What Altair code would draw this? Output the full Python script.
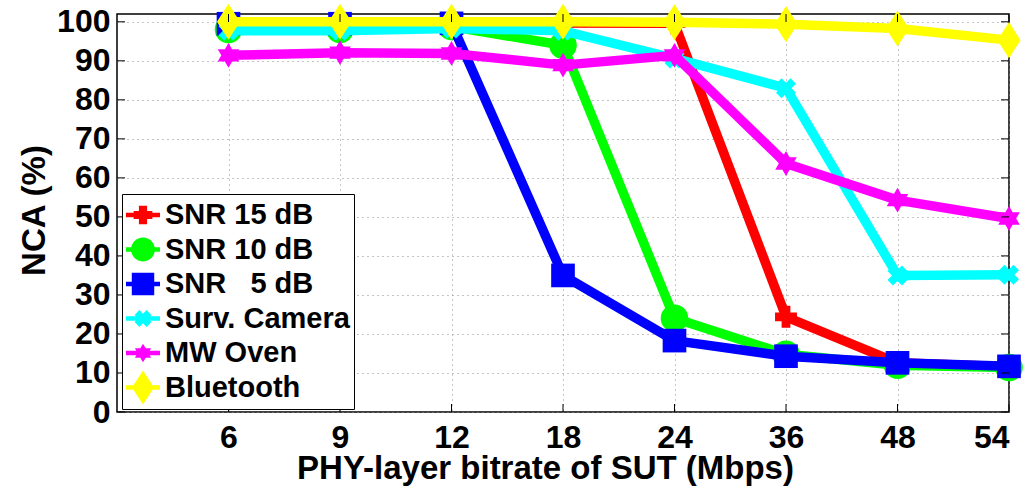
import math
import altair as alt
import pandas as pd

# ---------------- data ----------------
rates = ["6", "9", "12", "18", "24", "36", "48", "54"]
series_names = ["SNR 15 dB", "SNR 10 dB", "SNR \u20075 dB", "Surv. Camera", "MW Oven", "Bluetooth"]
snr15 = [99.5, 99.5, 99.6, 99.7, 99.6, 24.4, 12.6, 11.6]
snr10 = [98.0, 98.0, 98.8, 94.0, 24.0, 14.8, 12.0, 11.4]
snr5 = [99.5, 99.5, 99.6, 35.0, 18.3, 14.3, 12.6, 11.7]
camera = [97.7, 97.7, 98.3, 97.7, 90.6, 83.0, 35.0, 35.2]
oven = [91.4, 92.1, 91.9, 88.9, 91.4, 63.7, 54.3, 49.6]
bluetooth = [100.0, 100.0, 100.0, 100.0, 99.9, 99.4, 98.3, 95.3]
y_ticks = list(range(0, 101, 10))

colors = ["#ff0000", "#00ff00", "#0000ff", "#00ffff", "#ff00ff", "#ffff00"]
values = [snr15, snr10, snr5, camera, oven, bluetooth]

FONT = "Liberation Sans"


# ---------------- marker paths ----------------
def poly(pts):
    return "M" + "L".join(f"{x:.3f},{y:.3f}" for x, y in pts) + "Z"


def plus_pts(a, w):
    return [(-w, -a), (w, -a), (w, -w), (a, -w), (a, w), (w, w), (w, a), (-w, a),
            (-w, w), (-a, w), (-a, -w), (-w, -w)]


def rot45(pts):
    c = math.cos(math.pi / 4)
    return [(x * c - y * c, x * c + y * c) for x, y in pts]


def hexagram_pts(r):
    pts = []
    for k in range(12):
        ang = math.radians(-90 + 30 * k)
        rr = r if k % 2 == 0 else r / math.sqrt(3)
        pts.append((rr * math.cos(ang), rr * math.sin(ang)))
    return pts


def circle(r):
    return f"M{r},0A{r},{r} 0 1,1 {-r},0A{r},{r} 0 1,1 {r},0Z"


def square(h):
    return poly([(-h, -h), (h, -h), (h, h), (-h, h)])


def diamond(w, h):
    return poly([(0, -h), (w, 0), (0, h), (-w, 0)])


# markers drawn on the plot
plot_shapes = [
    ("cross", 480),
    ("circle", 760),
    ("square", 560),
    (poly(rot45(plus_pts(1.0, 0.38))), 420),
    (poly(hexagram_pts(1.0)), 620),
    (diamond(0.64, 1.0), 1300),
]

# legend symbols: line segment + marker (degenerate corner points keep equal bounds)
bar = poly([(-1, -0.13), (1, -0.13), (1, 0.13), (-1, 0.13)]) + "M-1,-1L-1,-1M1,1L1,1"
legend_shapes = [
    bar + poly(plus_pts(0.55, 0.24)),
    bar + circle(0.7),
    bar + square(0.66),
    bar + poly(rot45(plus_pts(0.5, 0.2))),
    bar + poly(hexagram_pts(0.55)),
    bar + diamond(0.65, 1.0),
]

# ---------------- frames ----------------
rows = []
for name, vals in zip(series_names, values):
    for i, v in enumerate(vals):
        rows.append({"series": name, "idx": i + 1, "rate": rates[i], "nca": v})
df = pd.DataFrame(rows)

ytick_df = pd.DataFrame({"nca": y_ticks})
xtick_df = pd.DataFrame({"idx": list(range(1, len(rates) + 1))})

label_expr = "[" + ",".join(f"'{r}'" for r in rates) + "][datum.value - 1]"

W = 892
H = 398
x_scale = alt.Scale(domain=[0, len(rates)], nice=False, zero=False)
y_scale = alt.Scale(domain=[0, 102], nice=False, zero=False)

x_enc = alt.X(
    "idx:Q",
    scale=x_scale,
    axis=alt.Axis(
        values=list(range(1, len(rates) + 1)),
        labelExpr=label_expr,
        labelOverlap=False,
        title="PHY-layer bitrate of SUT (Mbps)",
        titleBaseline="alphabetic",
        titleX=428,
        titleAlign="center",
        titleY=66,
        labelPadding=10,
    ),
)
y_enc = alt.Y(
    "nca:Q",
    scale=y_scale,
    axis=alt.Axis(
        values=y_ticks,
        labelOverlap=False,
        title="NCA (%)",
        titleBaseline="alphabetic",
        titleX=-73,
        titleY=196,
        titleAlign="center",
        titleAngle=270,
        labelPadding=7,
    ),
)

layers = []
for name, col, (shp, sz) in zip(series_names, colors, plot_shapes):
    base = alt.Chart(df).transform_filter(alt.datum.series == name)
    line = base.mark_line(color=col, strokeWidth=9.5, strokeJoin="round").encode(x=x_enc, y=y_enc)
    pts = base.mark_point(filled=True, shape=shp, size=sz, color=col, opacity=1).encode(x=x_enc, y=y_enc)
    layers += [line, pts]

# inward tick marks (MATLAB style)
TL = 8
for x0, x1 in [(0, TL), (W - TL, W)]:
    layers.append(
        alt.Chart(ytick_df).mark_rule(color="black", strokeWidth=1).encode(
            y=y_enc, x=alt.value(x0), x2=alt.value(x1)
        )
    )
for y0, y1 in [(H - TL, H), (0, TL)]:
    layers.append(
        alt.Chart(xtick_df).mark_rule(color="black", strokeWidth=1).encode(
            x=x_enc, y=alt.value(y0), y2=alt.value(y1)
        )
    )

leg = alt.Legend(
    orient="none", legendX=5, legendY=180, title=None,
    fillColor="white", strokeColor="black", padding=4,
    labelFont=FONT, labelFontSize=29, labelFontWeight="bold", labelColor="black",
    labelOffset=5, rowPadding=0.5, symbolSize=1156, symbolStrokeWidth=0,
    labelLimit=400, cornerRadius=0,
)
legend_layer = alt.Chart(df).mark_point(filled=True, size=1156, clip=True, opacity=1, strokeWidth=0).encode(
    x=alt.value(-2000),
    y=alt.value(-2000),
    color=alt.Color("series:N", scale=alt.Scale(domain=series_names, range=colors), legend=leg),
    shape=alt.Shape("series:N", scale=alt.Scale(domain=series_names, range=legend_shapes), legend=leg),
)
layers.append(legend_layer)

chart = alt.layer(*layers).properties(
    width=W, height=H,
    autosize=alt.AutoSizeParams(type="none"),
    padding={"left": 117, "top": 14, "right": 24, "bottom": 75},
    background="white",
).configure_view(
    stroke="black", strokeWidth=1.5
).configure_axis(
    labelFont=FONT, labelFontSize=32, labelFontWeight="bold", labelColor="black",
    titleFont=FONT, titleFontSize=33, titleFontWeight="bold", titleColor="black",
    domain=False, ticks=False,
    grid=True, gridColor="#8a8a8a", gridDash=[1, 4], gridWidth=1, gridOpacity=1,
)

chart.save("out.html", embed_options={"renderer": "svg", "actions": False})
